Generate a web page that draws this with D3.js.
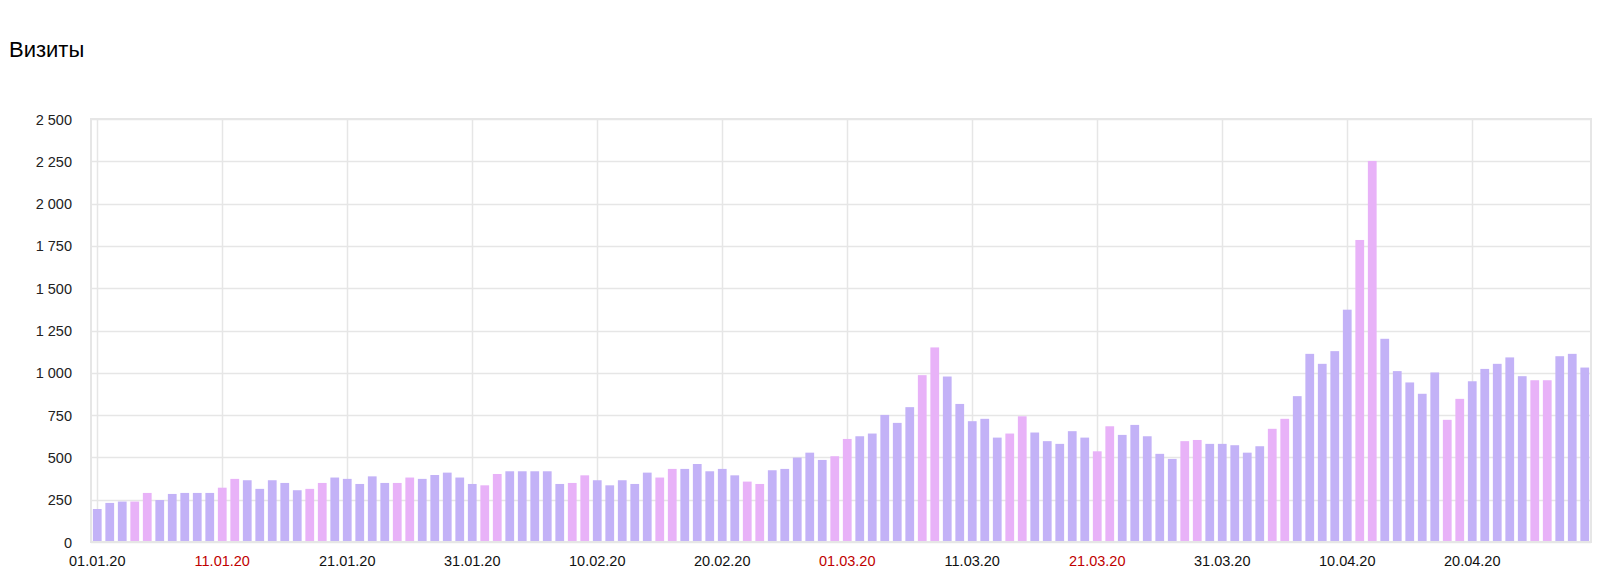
<!DOCTYPE html>
<html><head><meta charset="utf-8">
<script src="https://cdn.jsdelivr.net/npm/d3@7"></script>
<style>body{margin:0;background:#fff;} svg{display:block;}</style>
</head><body>
<script>
const startDate = "2020-01-01";
const visitsJan = [195,231,239,239,290,248,284,290,290,290,321,373,365,314,365,349,306,314,349,381,373,343,388,349,349,381,373,396,410,381,343];
const visitsFeb = [335,402,418,418,418,418,343,349,394,365,335,365,343,410,381,432,432,461,418,432,394,357,343,424,432,499,528,485,507];
const visitsMar = [609,625,641,751,704,797,986,1150,978,816,714,728,617,641,743,647,596,580,655,617,536,684,633,692,625,521,491,596,603,580,580];
const visitsApr = [572,528,566,669,728,862,1112,1053,1128,1373,1785,2252,1201,1010,943,876,1002,722,846,950,1023,1053,1091,980,956,956,1098,1112,1031];
const yTicks = [0,250,500,750,1000,1250,1500,1750,2000,2250,2500];
const xTickLabels = ["01.01.20","11.01.20","21.01.20","31.01.20","10.02.20","20.02.20","01.03.20","11.03.20","21.03.20","31.03.20","10.04.20","20.04.20"];
const title = "Визиты";

const values = [...visitsJan, ...visitsFeb, ...visitsMar, ...visitsApr];
const parse = d3.timeParse("%Y-%m-%d");
const fmt = d3.timeFormat("%d.%m.%y");
const d0 = parse(startDate);
const data = values.map((v,i) => { const d = d3.timeDay.offset(d0, i); return {date: d, key: fmt(d), v, we: d.getDay()===0 || d.getDay()===6}; });

const W = 1609, H = 588;
const m = {left: 91, right: 18, top: 119, bottom: 46};
const FONT = "Liberation Sans, Arial, sans-serif";
const svg = d3.select("body").append("svg").attr("width", W).attr("height", H);

svg.append("text").attr("x", 9).attr("y", 57).text(title)
  .attr("font-family", FONT).attr("font-size", 22).attr("fill", "#000");

const x = d3.scaleBand().domain(data.map(d => d.key)).range([m.left, W - m.right]).paddingInner(0.3).paddingOuter(0.15);
const y = d3.scaleLinear().domain([0, 2500]).range([H - m.bottom, m.top]);

const g = svg.append("g");
const cx = k => x(k) + x.bandwidth()/2;

// horizontal grid
g.selectAll(".hg").data(yTicks).join("line")
  .attr("x1", m.left).attr("x2", W - m.right)
  .attr("y1", d => Math.round(y(d)) + 0.5).attr("y2", d => Math.round(y(d)) + 0.5)
  .attr("stroke", "#e6e6e6").attr("stroke-width", 1.5);
// vertical grid
g.selectAll(".vg").data(xTickLabels).join("line")
  .attr("x1", d => Math.round(cx(d)) + 0.5).attr("x2", d => Math.round(cx(d)) + 0.5)
  .attr("y1", m.top).attr("y2", H - m.bottom)
  .attr("stroke", "#e6e6e6").attr("stroke-width", 1.5);

// bars
g.selectAll(".bar").data(data).join("rect")
  .attr("x", d => x(d.key)).attr("width", x.bandwidth())
  .attr("y", d => y(d.v)).attr("height", d => y(0) - y(d.v))
  .attr("fill", d => d.we ? "#e8b2f8" : "#c3b2f7");

// frame
svg.append("rect").attr("x", m.left).attr("y", m.top).attr("width", W - m.right - m.left).attr("height", H - m.bottom - m.top)
  .attr("fill", "none").attr("stroke", "#e6e6e6").attr("stroke-width", 2);

// y axis labels
const yAxis = d3.axisLeft(y).tickValues(yTicks).tickSize(0).tickPadding(0)
  .tickFormat(d => d3.format(",")(d).replace(/,/g, " "));
const ya = svg.append("g").attr("transform", `translate(${m.left - 19},0)`).call(yAxis);
ya.select(".domain").remove();
ya.selectAll("text").attr("font-family", FONT).attr("font-size", 14.5).attr("fill", "#222")
  .attr("dy", "0.35em");

// x axis labels
const xAxis = d3.axisBottom(x).tickValues(xTickLabels).tickSize(0).tickPadding(0);
const xa = svg.append("g").attr("transform", `translate(0,${H - m.bottom})`).call(xAxis);
xa.select(".domain").remove();
xa.selectAll("text").attr("font-family", FONT).attr("font-size", 14.5)
  .attr("y", 24).attr("dy", 0)
  .attr("fill", k => { const d = data.find(e => e.key === k); return d && d.we ? "#c00000" : "#111"; });
</script>
</body></html>
